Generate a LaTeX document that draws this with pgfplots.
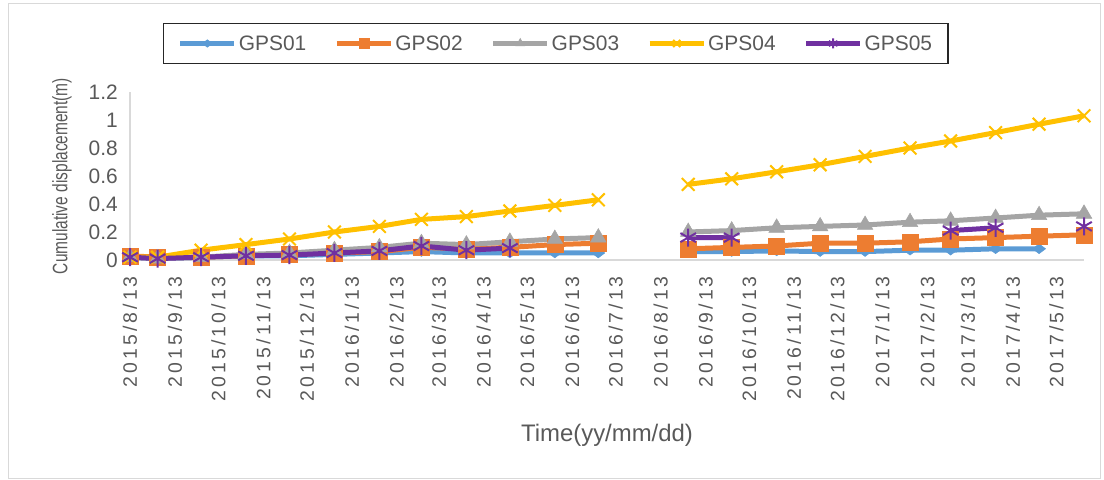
\documentclass[border=0pt]{standalone}
\usepackage{fontspec}
\setmainfont{Liberation Sans}
\newfontfamily\tickfont{Liberation Sans}[LetterSpace=16]
\usepackage{pgfplots}
\usepackage{pgfplotstable}
\pgfplotsset{compat=1.18}
\definecolor{cA}{HTML}{5B9BD5}
\definecolor{cB}{HTML}{ED7D31}
\definecolor{cC}{HTML}{A5A5A5}
\definecolor{cD}{HTML}{FFC000}
\definecolor{cE}{HTML}{7030A0}
\definecolor{txt}{HTML}{595959}
\definecolor{axl}{HTML}{D9D9D9}
\pgfplotstableread{
day g1 g2 g3 g4 g5
0   0.02 0.03 0.02 0.02 0.02
19  0.01 0.02 0.01 0.02 0.01
49  0.02 0.02 0.02 0.07 0.02
80  0.03 0.03 0.04 0.11 0.03
110 0.03 0.04 0.05 0.15 0.035
141 0.04 0.05 0.07 0.20 0.05
172 0.05 0.06 0.09 0.24 0.065
201 0.06 0.09 0.12 0.29 0.10
232 0.05 0.08 0.11 0.31 0.07
262 0.05 0.09 0.13 0.35 0.085
293 0.05 0.11 0.15 0.39 nan
323 0.05 0.12 0.16 0.43 nan
354 nan  nan  nan  nan  nan
385 0.06 0.08 0.20 0.54 0.16
415 0.06 0.09 0.21 0.58 0.16
446 0.065 0.10 0.23 0.63 nan
476 0.06 0.12 0.24 0.68 nan
507 0.06 0.12 0.25 0.74 nan
538 0.07 0.13 0.27 0.80 nan
566 0.07 0.15 0.28 0.85 0.21
597 0.08 0.16 0.30 0.91 0.23
627 0.08 0.17 0.32 0.97 nan
658 nan  0.18 0.33 1.03 0.24
}\datatab
\begin{document}
\begin{tikzpicture}[x=1bp,y=1bp]
\useasboundingbox (0,0) rectangle (1104,480);
\draw[axl, line width=1bp] (8,1) rectangle (1100,476);
\begin{axis}[
  at={(130bp,220bp)}, anchor=south west,
  scale only axis, width=954bp, height=168bp,
  xmin=0, xmax=658, ymin=0, ymax=1.2,
  axis x line=bottom, axis y line=left,
  axis line style={-, draw=axl, line width=1.3bp},
  major tick length=0pt,
  ytick={0,0.2,0.4,0.6,0.8,1,1.2},
  yticklabels={0,0.2,0.4,0.6,0.8,1,1.2},
  xtick={0,31,61,92,122,153,184,213,244,274,305,335,366,397,427,458,488,519,550,578,609,639},
  xticklabels={2015/8/13,2015/9/13,2015/10/13,2015/11/13,2015/12/13,2016/1/13,2016/2/13,2016/3/13,2016/4/13,2016/5/13,2016/6/13,2016/7/13,2016/8/13,2016/9/13,2016/10/13,2016/11/13,2016/12/13,2017/1/13,2017/2/13,2017/3/13,2017/4/13,2017/5/13},
  xticklabel style={rotate=90, anchor=east, inner sep=0pt, font=\tickfont\fontsize{19.5}{22}\selectfont, text=txt},
  xticklabel shift=16bp,
  yticklabel style={anchor=east, inner sep=0pt, font=\fontsize{21}{23}\selectfont, text=txt},
  yticklabel shift=12bp,
  xlabel={Time(yy/mm/dd)},
  xlabel style={at={(rel axis cs:0.5,-1.042)}, anchor=center, font=\fontsize{24}{26}\selectfont, text=txt},
  ylabel={Cumulative displacement(m)},
  ylabel style={at={(rel axis cs:-0.0713,0.5)}, anchor=center, rotate=0, xscale=0.74, font=\fontsize{21}{24}\selectfont, text=txt},
  unbounded coords=jump,
  legend columns=5,
  legend style={at={(rel axis cs:0.4465,1.2887)}, anchor=center, draw=black!85, line width=1.2bp,
    font=\fontsize{21}{23}\selectfont, text=txt, inner xsep=14bp, inner ysep=10bp,
    /tikz/every even column/.append style={column sep=26bp}},
  legend image code/.code={\draw[mark repeat=2,mark phase=2,mark size=5bp] plot coordinates {(0bp,0bp) (27bp,0bp) (54bp,0bp)};},
  clip=false,
]
\addplot[cA, line width=5bp, mark=diamond*, mark size=6.5bp, mark options={rotate=90, line width=0.5bp}] table[x=day,y=g1] {\datatab};
\addplot[cB, line width=5bp, mark=square*, mark size=8bp, mark options={line width=0.5bp}] table[x=day,y=g2] {\datatab};
\addplot[cC, line width=5bp, mark=triangle*, mark size=9bp, mark options={line width=0.5bp}] table[x=day,y=g3] {\datatab};
\addplot[cD, line width=5bp, mark=x, mark size=9bp, mark options={line width=2bp}] table[x=day,y=g4] {\datatab};
\addplot[cE, line width=5bp, mark=asterisk, mark size=9bp, mark options={line width=2bp}] table[x=day,y=g5] {\datatab};
\legend{GPS01,GPS02,GPS03,GPS04,GPS05}
\end{axis}
\end{tikzpicture}
\end{document}
